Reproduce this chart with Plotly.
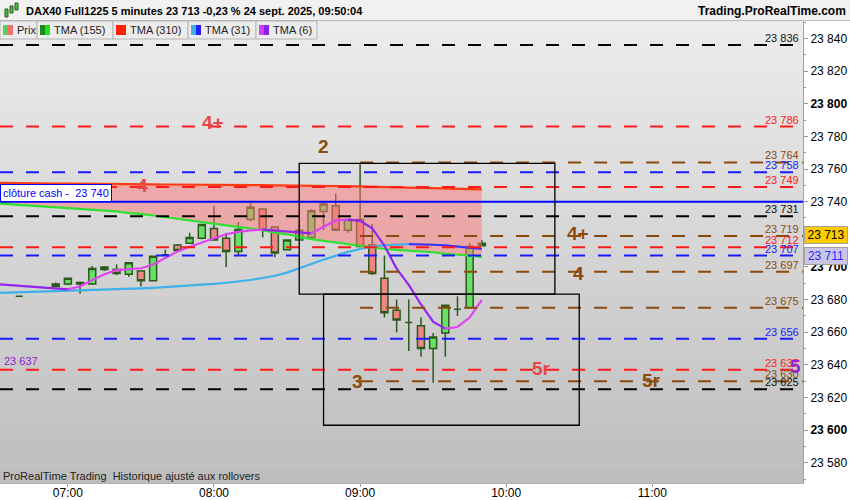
import plotly.graph_objects as go

DAY = "2025-09-24 "

# ---------------- data ----------------
candle_times = ["06:40", "06:55", "07:00", "07:05", "07:10", "07:15", "07:20", "07:25", "07:30",
                "07:35", "07:40", "07:45", "07:50", "07:55", "08:00", "08:05", "08:10", "08:15",
                "08:20", "08:25", "08:30", "08:35", "08:40", "08:45", "08:50", "08:55", "09:00",
                "09:05", "09:10", "09:15", "09:20", "09:25", "09:30", "09:35", "09:40", "09:45",
                "09:50"]
opens = [23682, 23689.5, 23689.5, 23690.5, 23689.5, 23700, 23698.5, 23695.5, 23697.5,
         23691.5, 23707.5, 23713.5, 23714.5, 23717.5, 23723.5, 23717.5, 23709.5, 23729,
         23735.5, 23724.5, 23710.5, 23716.5, 23718, 23734, 23737.5, 23722.5, 23729,
         23713.5, 23693, 23673.5, 23666, 23664, 23650, 23659.5, 23674, 23675, 23714.5]
highs = [23682, 23690.5, 23693.5, 23691, 23700.5, 23700.5, 23701.5, 23703, 23698,
         23707, 23710.5, 23714, 23721, 23726.5, 23737.5, 23721, 23727.5, 23739.5,
         23736, 23725, 23717, 23728, 23735.5, 23740, 23745, 23729.5, 23763.5,
         23726.5, 23707, 23680, 23680, 23669, 23659.5, 23677, 23682, 23714.5, 23716.5]
lows = [23682, 23687.5, 23689, 23683.5, 23689, 23697.5, 23695, 23694, 23688,
        23691, 23707, 23709.5, 23714, 23717, 23716, 23700, 23707, 23728,
        23718, 23706, 23710, 23716, 23717.5, 23722.5, 23722, 23721, 23712,
        23695, 23669, 23660, 23648.5, 23645, 23629, 23645, 23670, 23675, 23712.5]
closes = [23682, 23688, 23693, 23689.5, 23699, 23698.5, 23696, 23702.5, 23691.5,
          23706.5, 23707.5, 23710, 23718, 23726, 23716.5, 23709.5, 23723, 23736.5,
          23722.5, 23708.5, 23716.5, 23722.5, 23734.5, 23738.5, 23722.5, 23729, 23712.5,
          23696, 23672, 23667.5, 23666, 23650, 23657, 23676.5, 23674, 23712.5, 23713]

ma_times = ["06:30", "06:35", "06:40", "06:45", "06:50", "06:55", "07:00", "07:05", "07:10",
            "07:15", "07:20", "07:25", "07:30", "07:35", "07:40", "07:45", "07:50", "07:55",
            "08:00", "08:05", "08:10", "08:15", "08:20", "08:25", "08:30", "08:35", "08:40",
            "08:45", "08:50", "08:55", "09:00", "09:05", "09:10", "09:15", "09:20", "09:25",
            "09:30", "09:35", "09:40", "09:45", "09:50"]
tma155 = [23739, 23738.5, 23738, 23737.5, 23737, 23736.5, 23736, 23735.5, 23735,
          23734.5, 23734, 23733, 23732.5, 23731.5, 23730.5, 23729.5, 23728.5, 23727.5,
          23726.5, 23725.5, 23724.5, 23723.5, 23722.5, 23721, 23720, 23718.5, 23717,
          23716, 23715, 23714, 23713, 23712, 23711, 23710.5, 23710, 23709.5,
          23709, 23708, 23707.5, 23707, 23706]
tma310 = [23751.5, 23751.5, 23751.4, 23751.3, 23751.2, 23751.1, 23751, 23751, 23750.9,
          23750.8, 23750.8, 23750.7, 23750.6, 23750.6, 23750.5, 23750.5, 23750.4, 23750.3,
          23750.3, 23750.2, 23750.2, 23750.1, 23750.1, 23750, 23750, 23749.9, 23749.8,
          23749.7, 23749.6, 23749.5, 23749.4, 23749.2, 23749, 23748.8, 23748.6, 23748.4,
          23748.2, 23748, 23747.8, 23747.6, 23747.5]
tma31 = [23684, 23684.2, 23684.4, 23684.6, 23684.8, 23685, 23685.2, 23685.4, 23685.6,
         23685.9, 23686.2, 23686.5, 23686.8, 23687.2, 23687.6, 23688, 23688.5, 23689,
         23689.6, 23690.3, 23691, 23692, 23693.2, 23694.6, 23696.5, 23699, 23701.8,
         23704.5, 23707, 23709.2, 23711, 23712.4, 23713.3, 23713.8, 23714, 23713.9,
         23713.6, 23713.2, 23712.6, 23712, 23711]
tma6 = [23689.5, 23689, 23688.5, 23688, 23687.3, 23686.7, 23686.3, 23688, 23692,
        23695.5, 23698, 23698.8, 23699.2, 23701.5, 23705.3, 23709.4, 23712.4, 23714.8,
        23717.5, 23720, 23721.5, 23722.4, 23722.8, 23722.2, 23721.5, 23721, 23720.6,
        23724.5, 23728.5, 23729, 23728.2, 23723.7, 23713, 23699, 23689, 23677,
        23666.5, 23662.2, 23663.2, 23669, 23679.8]

level_values = [23836, 23786, 23764, 23758, 23749, 23731, 23719, 23712, 23707, 23697,
                23675, 23656, 23637, 23630, 23625]
level_kinds = ["black", "red", "brown", "blue", "red", "black", "brown", "red", "blue", "brown",
               "brown", "blue", "red", "brown", "black"]
cash_close = 23740
last_price = 23713
last_tma31 = 23711
left_level = 23637

box_starts = ["08:35", "08:45"]
box_ends = ["10:20", "10:30"]
box_lows = [23683.3, 23603]
box_highs = [23763.5, 23683.3]

zone_texts = ["4+", "4", "2", "3", "4+", "4", "5r", "5r", "5"]
zone_kinds = ["red", "red", "brown", "brown", "brown", "brown", "red", "brown", "purple"]
zone_times = ["07:59:36", "07:30:30", "08:44:50", "08:59:00", "10:29:30", "10:29:30",
              "10:14:20", "10:59:50", "11:58:40"]
zone_prices = [23788.8, 23750.2, 23773.5, 23629.6, 23720.2, 23695.7, 23638, 23630.7, 23638.7]

x_ticks = ["07:00", "08:00", "09:00", "10:00", "11:00"]
y_ticks = [23580, 23600, 23620, 23640, 23660, 23680, 23700, 23720, 23740, 23760, 23780,
           23800, 23820, 23840]
y_bold = [23600, 23700, 23800]

# ---------------- styles ----------------
FONT = "Liberation Sans, Arial, sans-serif"
COL = {"black": "#000000", "red": "#ff1a1a", "brown": "#8b4a0c", "blue": "#1a1aff",
       "purple": "#9a1fd0"}
LABCOL = {"black": "#111111", "red": "#ff2020", "brown": "#8b4a0c", "blue": "#2020ff"}
ZONECOL = {"red": "#e8474a", "brown": "#8b4a0c", "purple": "#9a1fd0"}

W, TOP, BOT = 803.0, 21.0, 483.0


def PX(x):
    return x / W


def PY(y):
    return (BOT - y) / (BOT - TOP)


def T(t):
    return DAY + t


def fmt(v):
    return f"{v:,.0f}".replace(",", " ")


cx = [T(t) for t in candle_times]
mx = [T(t) for t in ma_times]
X_RANGE = [T("06:32:07"), T("12:01:54")]
Y_RANGE = [23567.6, 23850.7]

fig = go.Figure()

# pink zone between TMA310 and TMA155
fig.add_trace(go.Scatter(x=mx, y=tma310, mode="lines", line=dict(width=0, color="rgba(0,0,0,0)"),
                         hoverinfo="skip", showlegend=False))
fig.add_trace(go.Scatter(x=mx, y=tma155, mode="lines", line=dict(width=0, color="rgba(0,0,0,0)"),
                         fill="tonexty", fillcolor="rgba(255,120,120,0.5)",
                         hoverinfo="skip", showlegend=False))

# candles
fig.add_trace(go.Candlestick(
    x=cx, open=opens, high=highs, low=lows, close=closes,
    increasing=dict(line=dict(color="#2b5a1c", width=1.5), fillcolor="#66e066"),
    decreasing=dict(line=dict(color="#2b5a1c", width=1.5), fillcolor="#ef8585"),
    whiskerwidth=0, hoverinfo="skip", showlegend=False))


def two_tone(xs, ys, up, down, width=2.2):
    segs = []
    cur = None
    sx, sy = [], []
    for i in range(1, len(ys)):
        c = up if ys[i] >= ys[i - 1] else down
        if c != cur:
            if sx:
                segs.append((cur, sx, sy))
            cur = c
            sx, sy = [xs[i - 1]], [ys[i - 1]]
        sx.append(xs[i])
        sy.append(ys[i])
    if sx:
        segs.append((cur, sx, sy))
    for c, a, b in segs:
        fig.add_trace(go.Scatter(x=a, y=b, mode="lines", line=dict(color=c, width=width),
                                 hoverinfo="skip", showlegend=False))


two_tone(mx, tma310, "#ff3a10", "#ff3a10")
two_tone(mx, tma155, "#1f9a1f", "#2fe02f")
two_tone(mx, tma31, "#40b0ea", "#3434ff")
two_tone(mx, tma6, "#e044f0", "#9424ee")

shapes = []
annos = []

# background gradient (plot area)
NB = 30
for i in range(NB):
    f = i / (NB - 1)
    g = int(round(236 - f * (236 - 190)))
    shapes.append(dict(type="rect", xref="paper", yref="paper", x0=0, x1=1,
                       y0=1 - (i + 1) / NB, y1=1 - i / NB + 0.001, layer="below",
                       line=dict(width=0), fillcolor=f"rgb({g},{g},{g})"))

# level lines
for v, k in zip(level_values, level_kinds):
    x0 = T("09:00") if k == "brown" else X_RANGE[0]
    shapes.append(dict(type="line", xref="x", yref="y", x0=x0, x1=X_RANGE[1], y0=v, y1=v,
                       line=dict(color=COL[k], width=2, dash="13px,13px"), layer="above"))
    annos.append(dict(xref="paper", yref="y", x=PX(801), y=v, xanchor="right", yanchor="bottom",
                      text=fmt(v), showarrow=False, yshift=-1,
                      font=dict(family=FONT, size=11, color=LABCOL[k])))

# cash close line
shapes.append(dict(type="line", xref="paper", yref="y", x0=0, x1=1, y0=cash_close, y1=cash_close,
                   line=dict(color="#0000ff", width=2), layer="above"))
annos.append(dict(xref="paper", yref="y", x=0.0005, y=cash_close, xanchor="left", yanchor="bottom",
                  text="clôture cash -  " + fmt(cash_close), showarrow=False, bgcolor="white",
                  bordercolor="#0000ff", borderwidth=1, borderpad=2,
                  font=dict(family=FONT, size=11, color="#0000ff")))

# rectangles
for a, b, lo, hi in zip(box_starts, box_ends, box_lows, box_highs):
    shapes.append(dict(type="rect", xref="x", yref="y", x0=T(a), x1=T(b), y0=lo, y1=hi,
                       line=dict(color="#000000", width=1.3), fillcolor="rgba(0,0,0,0)",
                       layer="above"))

# zone texts
for t, k, tm, p in zip(zone_texts, zone_kinds, zone_times, zone_prices):
    annos.append(dict(xref="x", yref="y", x=T(tm), y=p, text=f"<b>{t}</b>", showarrow=False,
                      xanchor="center", yanchor="middle",
                      font=dict(family=FONT, size=19, color=ZONECOL[k])))

# left purple level label
annos.append(dict(xref="paper", yref="y", x=0.002, y=left_level, xanchor="left", yanchor="bottom",
                  text=fmt(left_level), showarrow=False, yshift=1,
                  font=dict(family=FONT, size=11, color="#8a1ccc")))

# price boxes on the right axis
annos.append(dict(xref="paper", yref="y", x=PX(804), y=last_price, xanchor="left", yanchor="middle",
                  text=fmt(last_price), showarrow=False, yshift=11, bgcolor="#ffcc00",
                  bordercolor="#a0a0a0", borderwidth=1, borderpad=1, width=40, align="center",
                  font=dict(family=FONT, size=12, color="#000000")))
annos.append(dict(xref="paper", yref="y", x=PX(804), y=last_tma31, xanchor="left", yanchor="middle",
                  text=fmt(last_tma31), showarrow=False, yshift=-7, bgcolor="#cbc5e8",
                  bordercolor="#a0a0a0", borderwidth=1, borderpad=1, width=40, align="center",
                  font=dict(family=FONT, size=12, color="#2a2aff")))

# bottom watermark text
annos.append(dict(xref="paper", yref="paper", x=PX(1), y=PY(476), xanchor="left", yanchor="middle",
                  text="ProRealTime Trading  Historique ajusté aux rollovers", showarrow=False,
                  font=dict(family=FONT, size=11, color="#222222")))

# header bar
shapes.append(dict(type="rect", xref="paper", yref="paper", x0=0, x1=850 / W, y0=PY(20.5), y1=PY(0),
                   line=dict(width=0), fillcolor="#f1f1f1", layer="above"))
shapes.append(dict(type="line", xref="paper", yref="paper", x0=0, x1=850 / W, y0=PY(20.5), y1=PY(20.5),
                   line=dict(color="#b8b8b8", width=1), layer="above"))
# small candle icon
for (x0, y0, x1, y1, c) in [(5, 9, 8, 17, "#44c044"), (10, 6, 13, 13, "#44c044"), (15, 3, 18, 10, "#44c044")]:
    shapes.append(dict(type="rect", xref="paper", yref="paper", x0=PX(x0), x1=PX(x1), y0=PY(y1), y1=PY(y0),
                       line=dict(color="#2b5a1c", width=1), fillcolor=c, layer="above"))
annos.append(dict(xref="paper", yref="paper", x=PX(24), y=PY(10.5), xanchor="left", yanchor="middle",
                  text="<b>DAX40 Full1225 5 minutes 23 713 -0,23 % 24 sept. 2025, 09:50:04</b>",
                  showarrow=False, font=dict(family=FONT, size=11, color="#000000")))
annos.append(dict(xref="paper", yref="paper", x=848 / W, y=PY(10.5), xanchor="right", yanchor="middle",
                  text="<b>Trading.ProRealTime.com</b>", showarrow=False,
                  font=dict(family=FONT, size=12, color="#000000")))

# legend row
legend_items = [("Prix", 0, 37, ("#5ccc5c", "#f07070")),
                ("TMA (155)", 37, 113, ("#1a8a1a", "#22e022")),
                ("TMA (310)", 113, 188, ("#ff2200", "#ff2200")),
                ("TMA (31)", 188, 256, ("#40b0ea", "#2020ff")),
                ("TMA (6)", 256, 317, ("#d040f0", "#8a20ee"))]
for name, a, b, (c1, c2) in legend_items:
    shapes.append(dict(type="rect", xref="paper", yref="paper", x0=PX(a), x1=PX(b), y0=PY(39), y1=PY(21),
                       line=dict(color="#b4b4b4", width=1), fillcolor="#ececec", layer="above"))
    shapes.append(dict(type="rect", xref="paper", yref="paper", x0=PX(a + 3), x1=PX(a + 8), y0=PY(35),
                       y1=PY(25), line=dict(width=0), fillcolor=c1, layer="above"))
    shapes.append(dict(type="rect", xref="paper", yref="paper", x0=PX(a + 8), x1=PX(a + 13), y0=PY(35),
                       y1=PY(25), line=dict(width=0), fillcolor=c2, layer="above"))
    annos.append(dict(xref="paper", yref="paper", x=PX(a + 15), y=PY(30), xanchor="left", yanchor="middle",
                      text=name, showarrow=False, font=dict(family=FONT, size=11, color="#222222")))

fig.update_layout(
    width=850, height=500,
    margin=dict(l=0, r=47, t=21, b=17, pad=0, autoexpand=False),
    paper_bgcolor="white", plot_bgcolor="#d6d6d6",
    showlegend=False, boxgap=0.18, separators=", ",
    font=dict(family=FONT, size=12, color="#111111"),
    shapes=shapes, annotations=annos,
    xaxis=dict(type="date", range=X_RANGE, rangeslider=dict(visible=False), automargin=False,
               tickvals=[T(t) for t in x_ticks], ticktext=x_ticks,
               ticks="outside", ticklen=3, tickcolor="#999999", ticklabelstandoff=-4,
               showgrid=False, zeroline=False, showline=True, linecolor="#b0b0b0",
               tickfont=dict(family=FONT, size=12, color="#000000"), fixedrange=True),
    yaxis=dict(side="right", range=Y_RANGE, automargin=False,
               tickvals=y_ticks,
               ticktext=[f"<b>{fmt(v)}</b>" if v in y_bold else fmt(v) for v in y_ticks],
               ticks="outside", ticklen=4, tickcolor="#999999",
               minor=dict(tickmode="linear", tick0=23570, dtick=20, ticks="outside", ticklen=2,
                          tickcolor="#999999"),
               showgrid=False, zeroline=False, showline=True, linecolor="#a0a0a0",
               tickfont=dict(family=FONT, size=12, color="#000000"), fixedrange=True),
)

fig.write_html("out.html", config={"displayModeBar": False, "staticPlot": True},
               post_script="document.body.style.margin='0';document.body.style.padding='0';"
                           "document.body.style.overflow='hidden';")
